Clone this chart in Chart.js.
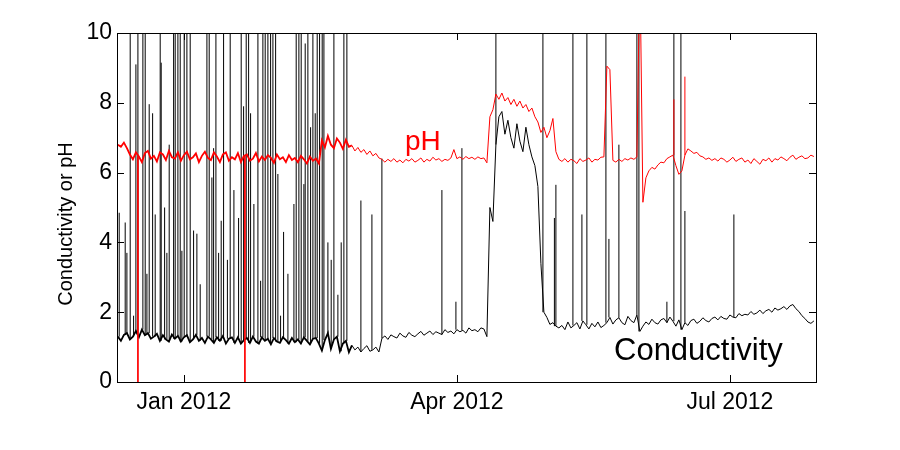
<!DOCTYPE html>
<html>
<head>
<meta charset="utf-8">
<script src="https://cdn.jsdelivr.net/npm/chart.js@4.4.1/dist/chart.umd.min.js"></script>
<style>
  html, body { margin: 0; padding: 0; background: #fff; }
  canvas { display: block; }
</style>
</head>
<body>
<canvas id="chart" width="900" height="450"></canvas>
<script>
// ===== Data (x = days since 1 Jan 2012, one sample per day from day -22) =====
const firstDay = -22;

const tickDays = [0, 91, 182];
const tickLabels = ["Jan 2012", "Apr 2012", "Jul 2012"];

const phValues = [
  6.80, 6.74, 6.86, 6.70, 6.52, 6.38, 6.58, 6.46, 6.30, 6.56,
  6.62, 6.40, 6.48, 6.32, 6.58, 6.52, 6.36, 6.62, 6.44, 6.40,
  6.58, 6.34, 6.50, 6.60, 6.38, 6.44, 6.55, 6.30, 6.48, 6.60,
  6.42, 6.36, 6.58, 6.46, 6.30, 6.52, 6.58, 6.34, 6.44, 6.38,
  6.56, 6.30, 6.48, 6.52, 6.34, 6.40, 6.56, 6.32, 6.46, 6.36,
  6.50, 6.42, 6.28, 6.52, 6.38, 6.44, 6.30, 6.50, 6.36, 6.42,
  6.30, 6.48, 6.38, 6.26, 6.46, 6.34, 6.40, 6.26, 6.92, 6.72,
  7.05, 6.80, 6.70, 6.98, 6.86, 6.68, 6.94, 6.74, 6.78, 6.62,
  6.72, 6.58, 6.66, 6.52, 6.62, 6.48, 6.55, 6.42, 6.38, 6.30,
  6.38, 6.32, 6.40, 6.30, 6.36, 6.28, 6.38, 6.33, 6.40, 6.30,
  6.35, 6.42, 6.30, 6.38, 6.33, 6.44, 6.36, 6.40, 6.32, 6.38,
  6.35, 6.42, 6.66, 6.40, 6.45, 6.38, 6.46, 6.40, 6.44, 6.38,
  6.45, 6.40, 6.42, 6.28, 7.60, 7.80, 8.25, 8.10, 8.28, 8.05,
  8.15, 7.95, 8.10, 7.90, 8.05, 7.85, 7.95, 7.75, 7.85, 7.60,
  7.45, 7.15, 7.30, 7.00, 7.20, 7.55, 6.60, 6.38, 6.32, 6.40,
  6.30, 6.38, 6.34, 6.26, 6.40, 6.32, 6.36, 6.42, 6.30, 6.38,
  6.36, 6.44, 6.45, 9.05, 8.95, 6.35, 6.30, 6.38, 6.32, 6.40,
  6.36, 6.42, 6.38, 6.45, 12.0, 5.15, 5.85, 6.05, 6.15, 6.10,
  6.22, 6.30, 6.28, 6.40, 6.45, 6.50, 6.20, 5.95, 6.05, 6.50,
  6.68, 6.62, 6.55, 6.58, 6.48, 6.45, 6.38, 6.42, 6.35, 6.40,
  6.33, 6.42, 6.38, 6.30, 6.36, 6.44, 6.32, 6.38, 6.42, 6.30,
  6.36, 6.26, 6.40, 6.32, 6.24, 6.38, 6.34, 6.42, 6.30, 6.40,
  6.36, 6.45, 6.40, 6.34, 6.44, 6.50, 6.38, 6.44, 6.48, 6.40,
  6.42, 6.50, 6.46
];

const condValues = [
  1.30, 1.18, 1.35, 1.40, 1.22, 1.30, 1.46, 1.28, 1.50, 1.34,
  1.40, 1.24, 1.30, 1.38, 1.18, 1.34, 1.22, 1.16, 1.36, 1.24,
  1.32, 1.16, 1.28, 1.34, 1.14, 1.22, 1.35, 1.18, 1.26, 1.12,
  1.30, 1.22, 1.12, 1.28, 1.18, 1.32, 1.10, 1.24, 1.28, 1.12,
  1.28, 1.10, 1.20, 1.26, 1.12, 1.30, 1.16, 1.10, 1.28, 1.18,
  1.24, 1.08, 1.26, 1.16, 1.12, 1.28, 1.20, 1.10, 1.26, 1.14,
  1.22, 1.10, 1.28, 1.18, 1.08, 1.24, 1.26, 1.10, 0.90, 1.20,
  1.40, 0.95, 1.22, 1.30, 0.88, 1.10, 1.18, 0.85, 1.05, 0.92,
  1.00, 0.86, 0.96, 1.04, 0.88, 0.92, 1.00, 0.86, 1.25, 1.32,
  1.22, 1.35, 1.30, 1.26, 1.40, 1.32, 1.28, 1.42, 1.34, 1.30,
  1.38, 1.45, 1.34, 1.40, 1.46, 1.36, 1.44, 1.40, 1.36, 1.50,
  1.42, 1.46, 1.38, 1.50, 1.44, 1.48, 1.40, 1.55, 1.47, 1.50,
  1.44, 1.55, 1.52, 1.30, 5.00, 4.60, 6.80, 7.60, 7.75, 7.10,
  7.50, 7.00, 6.70, 7.40, 6.90, 6.60, 7.30, 6.80, 6.45, 6.20,
  5.60, 3.40, 2.00, 1.85, 1.65, 1.70, 1.60, 1.55, 1.62, 1.50,
  1.72, 1.55, 1.62, 1.70, 1.52, 1.75, 1.64, 1.52, 1.68, 1.58,
  1.72, 1.56, 1.62, 1.70, 1.85, 1.66, 1.78, 1.84, 1.70, 1.64,
  1.88, 1.76, 1.70, 1.92, 1.45, 1.60, 1.72, 1.65, 1.80, 1.70,
  1.66, 1.78, 1.82, 1.70, 1.86, 1.74, 1.60, 1.78, 1.50, 1.70,
  1.62, 1.76, 1.80, 1.68, 1.74, 1.84, 1.76, 1.72, 1.82, 1.86,
  1.78, 1.88, 1.82, 1.80, 1.92, 1.86, 1.84, 1.96, 1.90, 1.94,
  1.92, 2.02, 1.94, 1.98, 2.06, 1.96, 2.04, 2.08, 2.00, 2.12,
  2.06, 2.10, 2.16, 2.08, 2.18, 2.22, 2.10, 2.02, 1.90, 1.82,
  1.72, 1.68, 1.75
];

// short spikes in the conductivity record (12 = off the top of the axis)
const condSpikeDays = [
  -21.57, -19.57, -19.0, -17.9, -16.77, -16.0, -15.33, -13.67, -12.9, -12.33,
  -11.57, -10.43, -9.57, -7.9, -7.57, -6.43, -5.67, -4.9, -3.43, -2.9,
  -2.0, -1.23, -0.67, 0.1, 1.0, 2.1, 3.23, 4.33, 5.43, 7.67,
  8.43, 9.33, 9.9, 10.67, 11.57, 12.43, 13.23, 14.5, 15.43, 16.67,
  18.23, 19.1, 19.9, 20.77, 21.57, 22.23, 23.33, 24.67, 25.57, 26.33,
  27.1, 28.0, 28.9, 29.67, 30.57, 31.33, 32.23, 33.23, 34.67, 36.67,
  37.43, 38.33, 39.1, 40.0, 40.43, 41.33, 42.23, 43.0, 43.77, 44.43,
  45.23, 46.1, 46.67, 48.0, 49.1, 50.0, 51.33, 52.43, 53.33, 54.33,
  59.0, 62.67, 66.0, 86.0, 90.67, 92.67, 104.0, 119.67, 123.5, 124.0,
  129.67, 132.67, 134.33, 140.67, 141.67, 145.0, 151.0, 151.67, 161.0, 163.33,
  165.67, 167.0, 183.33
];
const condSpikeValues = [
  4.85, 4.57, 3.7, 12, 1.9, 9.1, 12, 12, 12, 3.1,
  7.96, 7.7, 4.8, 12, 9.15, 5.0, 3.7, 6.8, 12, 12,
  12, 12, 3.76, 12, 12, 12, 4.34, 4.25, 2.8, 12,
  12, 5.86, 6.7, 12, 3.7, 4.62, 12, 3.5, 12, 5.5,
  4.7, 12, 7.9, 12, 12, 7.7, 5.1, 12, 2.9, 12,
  12, 12, 12, 12, 12, 5.96, 1.9, 4.3, 3.1, 5.1,
  12, 12, 12, 5.67, 9.7, 12, 7.3, 12, 7.7, 12,
  12, 12, 12, 4.0, 3.5, 12, 2.5, 4.0, 12, 12,
  5.2, 4.8, 6.4, 5.5, 2.3, 6.7, 12, 12, 4.7, 5.65,
  12, 4.8, 12, 12, 4.1, 6.8, 12, 12, 2.3, 12,
  12, 4.9, 4.8
];

// short spikes / dropouts in the pH record
const phSpikeDays = [-22.3, -15.33, 20.33, 163.33, 167.0];
const phSpikeValues = [0, -1, -1, 8.1, 8.75];

// ===== Helpers =====
function toPoints(values) {
  return values.map((v, i) => ({ x: firstDay + i, y: v }));
}

// vertical strokes from the record up (or down) to the spike value
function spikePoints(days, peaks, base) {
  const pts = [];
  days.forEach((d, i) => {
    const b = base[Math.round(d) - firstDay];
    pts.push({ x: d, y: b }, { x: d, y: peaks[i] }, { x: d, y: null });
  });
  return pts;
}

// the winter record is much noisier, so its trace reads thicker
const noisyWidth = c => (c.p0.parsed.x < 56 ? 1.8 : 1);

const FONT = '"Liberation Sans", Arial, Helvetica, sans-serif';

// ===== Frame, inward ticks and labels =====
const framePlugin = {
  id: "frame",
  afterDatasetsDraw(chart) {
    const { ctx, chartArea: a, scales } = chart;
    const tl = 7;
    ctx.save();
    ctx.strokeStyle = "#000";
    ctx.lineWidth = 1;
    ctx.beginPath();
    tickDays.forEach(d => {
      const x = Math.round(scales.x.getPixelForValue(d)) + 0.5;
      ctx.moveTo(x, a.bottom); ctx.lineTo(x, a.bottom - tl);
      ctx.moveTo(x, a.top); ctx.lineTo(x, a.top + tl);
    });
    for (let v = 0; v <= 10; v += 2) {
      const y = Math.round(scales.y.getPixelForValue(v)) + 0.5;
      ctx.moveTo(a.left, y); ctx.lineTo(a.left + tl, y);
      ctx.moveTo(a.right, y); ctx.lineTo(a.right - tl, y);
    }
    ctx.stroke();
    ctx.strokeRect(Math.round(a.left) + 0.5, Math.round(a.top) + 0.5,
      Math.round(a.right - a.left), Math.round(a.bottom - a.top));

    // y-axis title
    ctx.fillStyle = "#000";
    ctx.font = "20px " + FONT;
    ctx.textAlign = "center";
    ctx.textBaseline = "middle";
    ctx.translate(66, 224);
    ctx.rotate(-Math.PI / 2);
    ctx.fillText("Conductivity or pH", 0, 0);
    ctx.restore();

    // series labels
    ctx.save();
    ctx.textBaseline = "alphabetic";
    ctx.textAlign = "left";
    ctx.fillStyle = "#ff0000";
    ctx.font = "28px " + FONT;
    ctx.fillText("pH", 405, 150);
    ctx.fillStyle = "#000";
    ctx.font = "31px " + FONT;
    ctx.fillText("Conductivity", 614, 360);
    ctx.restore();
  }
};

// ===== Chart =====
const chart = new Chart(document.getElementById("chart"), {
  type: "line",
  data: {
    datasets: [
      { data: spikePoints(phSpikeDays, phSpikeValues, phValues), borderColor: "#ff0000", spanGaps: false },
      { data: toPoints(phValues), borderColor: "#ff0000", segment: { borderWidth: noisyWidth } },
      { data: spikePoints(condSpikeDays, condSpikeValues, condValues), borderColor: "#000", spanGaps: false },
      { data: toPoints(condValues), borderColor: "#000", segment: { borderWidth: noisyWidth } }
    ]
  },
  options: {
    responsive: false,
    animation: false,
    parsing: false,
    normalized: true,
    layout: { padding: { top: 33, right: 84, left: 0, bottom: 0 } },
    elements: {
      point: { radius: 0 },
      line: { borderWidth: 1, tension: 0, fill: false }
    },
    plugins: {
      legend: { display: false },
      tooltip: { enabled: false }
    },
    scales: {
      x: {
        type: "linear",
        min: -22.3,
        max: 210.7,
        grid: { display: false, drawTicks: false },
        border: { display: false },
        afterBuildTicks: s => { s.ticks = tickDays.map(v => ({ value: v })); },
        afterFit: s => { s.height = 68; },
        ticks: {
          autoSkip: false,
          maxRotation: 0,
          padding: 7,
          color: "#000",
          font: { size: 23, family: FONT },
          callback: v => tickLabels[tickDays.indexOf(v)]
        }
      },
      y: {
        min: 0,
        max: 10,
        grid: { display: false, drawTicks: false },
        border: { display: false },
        afterFit: s => { s.width = 117; },
        ticks: {
          stepSize: 2,
          padding: 5,
          color: "#000",
          font: { size: 23, family: FONT }
        }
      }
    }
  },
  plugins: [framePlugin]
});
</script>
</body>
</html>
